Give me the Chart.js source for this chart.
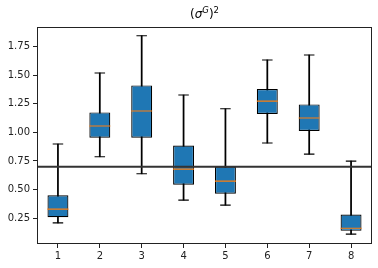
<!DOCTYPE html>
<html>
<head>
<meta charset="utf-8">
<script src="https://cdn.jsdelivr.net/npm/chart.js@4"></script>
<style>
  html, body { margin: 0; padding: 0; background: #fff; }
  #wrap { position: relative; width: 378px; height: 268px; }
  #title { position: absolute; left: 37px; width: 335px; top: 7px; text-align: center;
           font-family: "DejaVu Sans", sans-serif; font-size: 12px; line-height: 14px; color: #000; }
  #title sup { font-size: 8.5px; vertical-align: 5px; line-height: 0; }
  canvas { position: absolute; left: 0; top: 0; }
</style>
</head>
<body>
<div id="wrap">
  <canvas id="c" width="378" height="268"></canvas>
  <div id="title">(<i>σ</i><sup><i>G</i></sup>)<sup>2</sup></div>
</div>
<script>
const categories  = ['1', '2', '3', '4', '5', '6', '7', '8'];
const whiskerLow  = [0.209, 0.787, 0.638, 0.408, 0.364, 0.907, 0.810, 0.110];
const q1          = [0.259, 0.953, 0.953, 0.542, 0.463, 1.161, 1.012, 0.139];
const median      = [0.329, 1.056, 1.187, 0.679, 0.574, 1.274, 1.126, 0.162];
const q3          = [0.451, 1.175, 1.411, 0.886, 0.702, 1.380, 1.245, 0.282];
const whiskerHigh = [0.898, 1.520, 1.846, 1.327, 1.207, 1.634, 1.677, 0.749];
const refLevel    = 0.7;
const yTicks      = [0.25, 0.50, 0.75, 1.00, 1.25, 1.50, 1.75];

const frame = {
  id: 'frame',
  afterDatasetsDraw(chart) {
    const a = chart.chartArea, ctx = chart.ctx;
    ctx.save();
    ctx.strokeStyle = '#222';
    ctx.lineWidth = 1;
    ctx.strokeRect(Math.round(a.left) + 0.5, Math.round(a.top) + 0.5,
                   Math.round(a.right - a.left) - 1, Math.round(a.bottom - a.top) - 1);
    ctx.restore();
  }
};

new Chart(document.getElementById('c'), {
  data: {
    labels: categories,
    datasets: [
      { type: 'line', xAxisID: 'x2', order: 0,
        data: [{x: 0, y: refLevel}, {x: 1, y: refLevel}],
        borderColor: '#333', borderWidth: 2, pointRadius: 0, fill: false },
      { type: 'line', order: 1, data: median, showLine: false,
        pointStyle: 'line', pointRadius: 10.5, pointBorderWidth: 1.1,
        pointBorderColor: '#ff7f0e', pointBackgroundColor: '#ff7f0e' },
      { type: 'line', order: 1, data: whiskerHigh, showLine: false,
        pointStyle: 'line', pointRadius: 5.25, pointBorderWidth: 1.1,
        pointBorderColor: '#000', pointBackgroundColor: '#000' },
      { type: 'line', order: 1, data: whiskerLow, showLine: false,
        pointStyle: 'line', pointRadius: 5.25, pointBorderWidth: 1.1,
        pointBorderColor: '#000', pointBackgroundColor: '#000' },
      { type: 'bar', order: 2, grouped: false,
        data: categories.map((c, i) => [q1[i], q3[i]]),
        backgroundColor: '#1f77b4', borderColor: '#000', borderWidth: 1.2,
        borderSkipped: false, categoryPercentage: 1, barPercentage: 0.5 },
      { type: 'bar', order: 3, grouped: false,
        data: categories.map((c, i) => [whiskerLow[i], whiskerHigh[i]]),
        backgroundColor: '#000', borderWidth: 0, barThickness: 1.1 }
    ]
  },
  options: {
    responsive: false,
    animation: false,
    events: [],
    layout: { autoPadding: false, padding: { top: 27, right: 6, left: 0, bottom: 0 } },
    plugins: { legend: { display: false }, tooltip: { enabled: false }, title: { display: false } },
    scales: {
      x: {
        type: 'category', offset: true,
        grid: { display: true, drawOnChartArea: false, offset: false, tickLength: 4, color: '#222' },
        border: { display: false },
        ticks: { color: '#222', font: { family: 'DejaVu Sans', size: 10 }, padding: 2, maxRotation: 0 },
        afterFit(s) { s.height = 24; s.paddingLeft = 0; s.paddingRight = 0; }
      },
      x2: { type: 'linear', min: 0, max: 1, display: false },
      y: {
        type: 'linear', min: 0.024, max: 1.922,
        grid: { display: true, drawOnChartArea: false, tickLength: 4, color: '#222' },
        border: { display: false },
        afterBuildTicks(s) { s.ticks = yTicks.map(v => ({ value: v })); },
        ticks: { color: '#222', font: { family: 'DejaVu Sans', size: 10 }, padding: 3,
                 callback: v => Number(v).toFixed(2) },
        afterFit(s) { s.width = 37; s.paddingTop = 0; s.paddingBottom = 0; }
      }
    }
  },
  plugins: [frame]
});
</script>
</body>
</html>
